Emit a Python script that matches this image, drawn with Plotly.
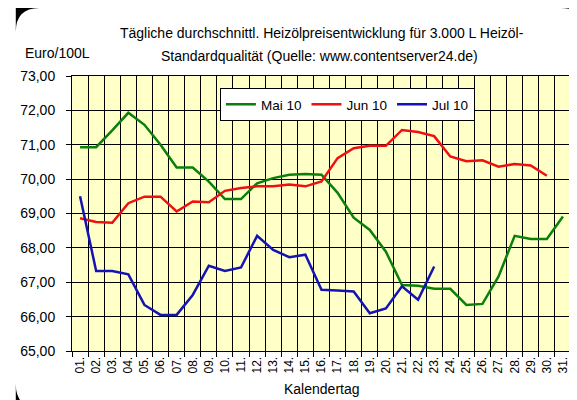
import plotly.graph_objs as go

# Kalendertage 01. - 31.
days = ['%02d.' % d for d in range(1, 32)]

mai10 = [70.93, 70.93, 71.42, 71.93, 71.58, 71.00, 70.34, 70.34, 69.93, 69.42,
         69.42, 69.88, 70.03, 70.13, 70.15, 70.13, 69.60, 68.88, 68.52, 67.89,
         66.92, 66.90, 66.81, 66.81, 66.34, 66.37, 67.17, 68.35, 68.26, 68.26,
         68.91]
jun10 = [68.86, 68.75, 68.73, 69.30, 69.49, 69.49, 69.06, 69.35, 69.33, 69.66,
         69.74, 69.79, 69.79, 69.84, 69.79, 69.93, 70.61, 70.90, 70.97, 70.97,
         71.43, 71.37, 71.25, 70.66, 70.52, 70.55, 70.36, 70.44, 70.40, 70.10]
jul10 = [69.50, 67.33, 67.33, 67.23, 66.34, 66.05, 66.05, 66.63, 67.48, 67.33,
         67.43, 68.35, 67.94, 67.73, 67.80, 66.78, 66.76, 66.73, 66.10, 66.24,
         66.88, 66.49, 67.46]

series = [('Mai 10', mai10, '#0a800a'),
          ('Jun 10', jun10, '#f01010'),
          ('Jul 10', jul10, '#1414b4')]

W, H = 577, 400
L, R, T, B = 57, 563, 68, 343   # plot area in pixels

def fx(px):
    return (px - L) / (R - L)

def fy(py):
    return (B - py) / (B - T)

fig = go.Figure()
for name, vals, col in series:
    fig.add_trace(go.Scatter(
        x=days[:len(vals)],
        y=vals,
        name=name,
        mode='lines',
        line=dict(color=col, width=2.5)
    ))

# black rounded corners of the frame
r = 24
corners = [((0, 0), (r, 0), (0, r)),
           ((W, 0), (W - r, 0), (W, r)),
           ((0, H), (r, H), (0, H - r)),
           ((W, H), (W - r, H), (W, H - r))]
shapes = []
for c, a, b in corners:
    path = 'M %f,%f L %f,%f Q %f,%f %f,%f Z' % (
        fx(c[0]), fy(c[1]), fx(a[0]), fy(a[1]),
        fx(c[0]), fy(c[1]), fx(b[0]), fy(b[1]))
    shapes.append(dict(type='path', path=path, xref='paper', yref='paper',
                       fillcolor='black', line=dict(width=0), layer='above'))

fnt = 'Liberation Sans, Arial, sans-serif'
fig.update_layout(
    width=W, height=H,
    margin=dict(l=L, r=W - R, t=T, b=H - B, pad=0),
    paper_bgcolor='white',
    plot_bgcolor='#ffffc8',
    font=dict(family=fnt, size=13, color='black'),
    separators=',.',
    showlegend=True,
    legend=dict(orientation='h', x=fx(207), y=fy(80), xanchor='left', yanchor='top',
                bgcolor='white', bordercolor='black', borderwidth=1,
                font=dict(size=13.5), itemwidth=30),
    shapes=shapes,
    annotations=[
        dict(text='Tägliche durchschnittl. Heizölpreisentwicklung für 3.000 L Heizöl-',
             x=fx(310), y=fy(25), xref='paper', yref='paper', showarrow=False,
             xanchor='center', yanchor='middle', font=dict(size=14)),
        dict(text='Standardqualität (Quelle: www.contentserver24.de)',
             x=fx(308), y=fy(48), xref='paper', yref='paper', showarrow=False,
             xanchor='center', yanchor='middle', font=dict(size=14)),
        dict(text='Euro/100L', x=fx(7), y=fy(45), xref='paper', yref='paper',
             showarrow=False, xanchor='left', yanchor='middle', font=dict(size=14)),
        dict(text='Kalendertag', x=0.5, y=fy(381), xref='paper', yref='paper',
             showarrow=False, xanchor='center', yanchor='middle', font=dict(size=14)),
    ]
)
fig.update_xaxes(
    type='category', categoryorder='array', categoryarray=days,
    tickvals=days, ticktext=days,
    range=[-0.5, 30.5], tickson='boundaries',
    showgrid=True, gridcolor='black', gridwidth=1,
    showline=True, linecolor='black', linewidth=1, mirror=True,
    ticks='outside', ticklen=5, tickcolor='black',
    tickangle=-90, tickfont=dict(size=12), zeroline=False
)
fig.update_yaxes(
    range=[65, 73], dtick=1, tickformat='.2f',
    showgrid=True, gridcolor='black', gridwidth=1,
    showline=True, linecolor='black', linewidth=1, mirror=True,
    ticks='outside', ticklen=5, tickcolor='black',
    ticklabelstandoff=8,
    tickfont=dict(size=14), zeroline=False
)
fig.write_html('out.html')
